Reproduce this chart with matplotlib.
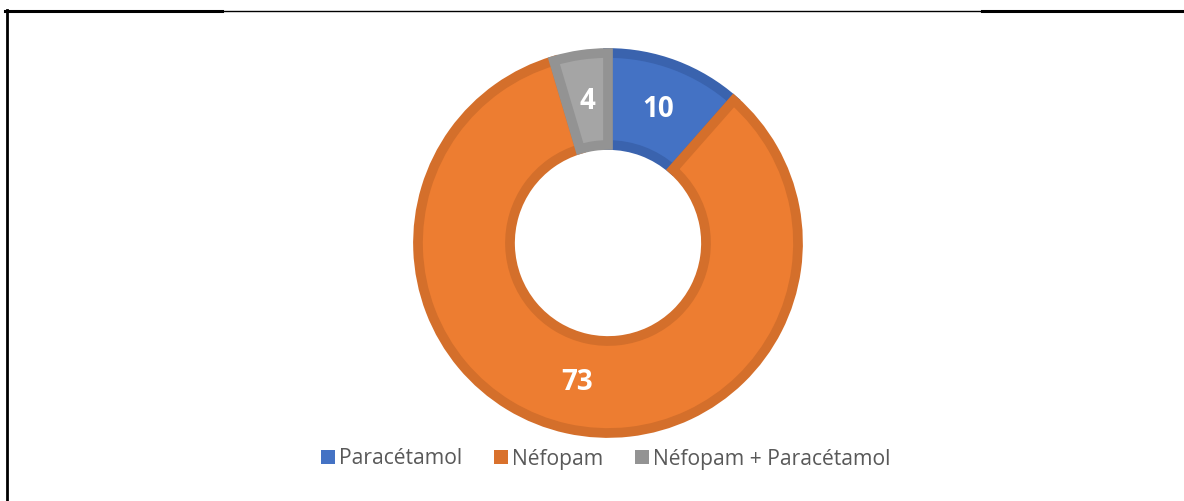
import matplotlib
matplotlib.use("Agg")
import matplotlib.pyplot as plt
from matplotlib.patches import Patch
from matplotlib.lines import Line2D
import numpy as np

categories = ["Paracétamol", "Néfopam", "Néfopam + Paracétamol"]
values = [10, 73, 4]
fill_colors = ["#4472C4", "#ED7D31", "#A5A5A5"]
edge_colors = ["#3A63AE", "#D46F2B", "#939393"]
legend_colors = ["#4472C4", "#D9712C", "#939393"]

W, H = 1184, 501
fig = plt.figure(figsize=(W / 100, H / 100), dpi=100)
ax = fig.add_axes([0, 0, 1, 1])

cx, cy = 608, H - 243
R = 190
width = 92

wedges, texts = ax.pie(
    values,
    colors=fill_colors,
    startangle=90,
    counterclock=False,
    radius=R,
    center=(cx, cy),
    frame=True,
    wedgeprops=dict(width=width, linewidth=7, joinstyle="miter"),
)
for w, ec in zip(wedges, edge_colors):
    w.set_edgecolor(ec)

# value labels
total = sum(values)
start = 90.0
r_lab = R - width / 2 - 1
for v in values:
    ang = start - v / total * 360 / 2
    start -= v / total * 360
    x = cx + r_lab * np.cos(np.deg2rad(ang))
    y = cy + r_lab * np.sin(np.deg2rad(ang))
    ax.text(x, y, f"{v}", color="white", fontsize=20, fontweight="bold",
            family="Open Sans", ha="center", va="center")

ax.set_xlim(0, W)
ax.set_ylim(0, H)
ax.set_aspect("equal")
ax.axis("off")

handles = [Patch(facecolor=c) for c in legend_colors]
leg = fig.legend(handles, categories, loc="center", bbox_to_anchor=(606 / W, (H - 459) / H),
                 ncol=3, frameon=False, handlelength=0.65, handleheight=0.65,
                 handletextpad=0.2, columnspacing=1.5, prop=dict(family="Open Sans", size=15.2))
for t in leg.get_texts():
    t.set_color("#595959")

# frame lines
def fy(py):
    return (H - py) / H

def fx(px):
    return px / W

fig.add_artist(Line2D([fx(5), fx(222)], [fy(10.5), fy(10.5)], color="black", lw=2.2))
fig.add_artist(Line2D([fx(222), fx(982)], [fy(10.5), fy(10.5)], color="black", lw=1.0))
fig.add_artist(Line2D([fx(982), fx(1184)], [fy(10.5), fy(10.5)], color="black", lw=2.2))
fig.add_artist(Line2D([fx(6.5), fx(6.5)], [fy(9.5), fy(501)], color="black", lw=2.0))

fig.savefig("out.png", dpi=100, facecolor="white")
